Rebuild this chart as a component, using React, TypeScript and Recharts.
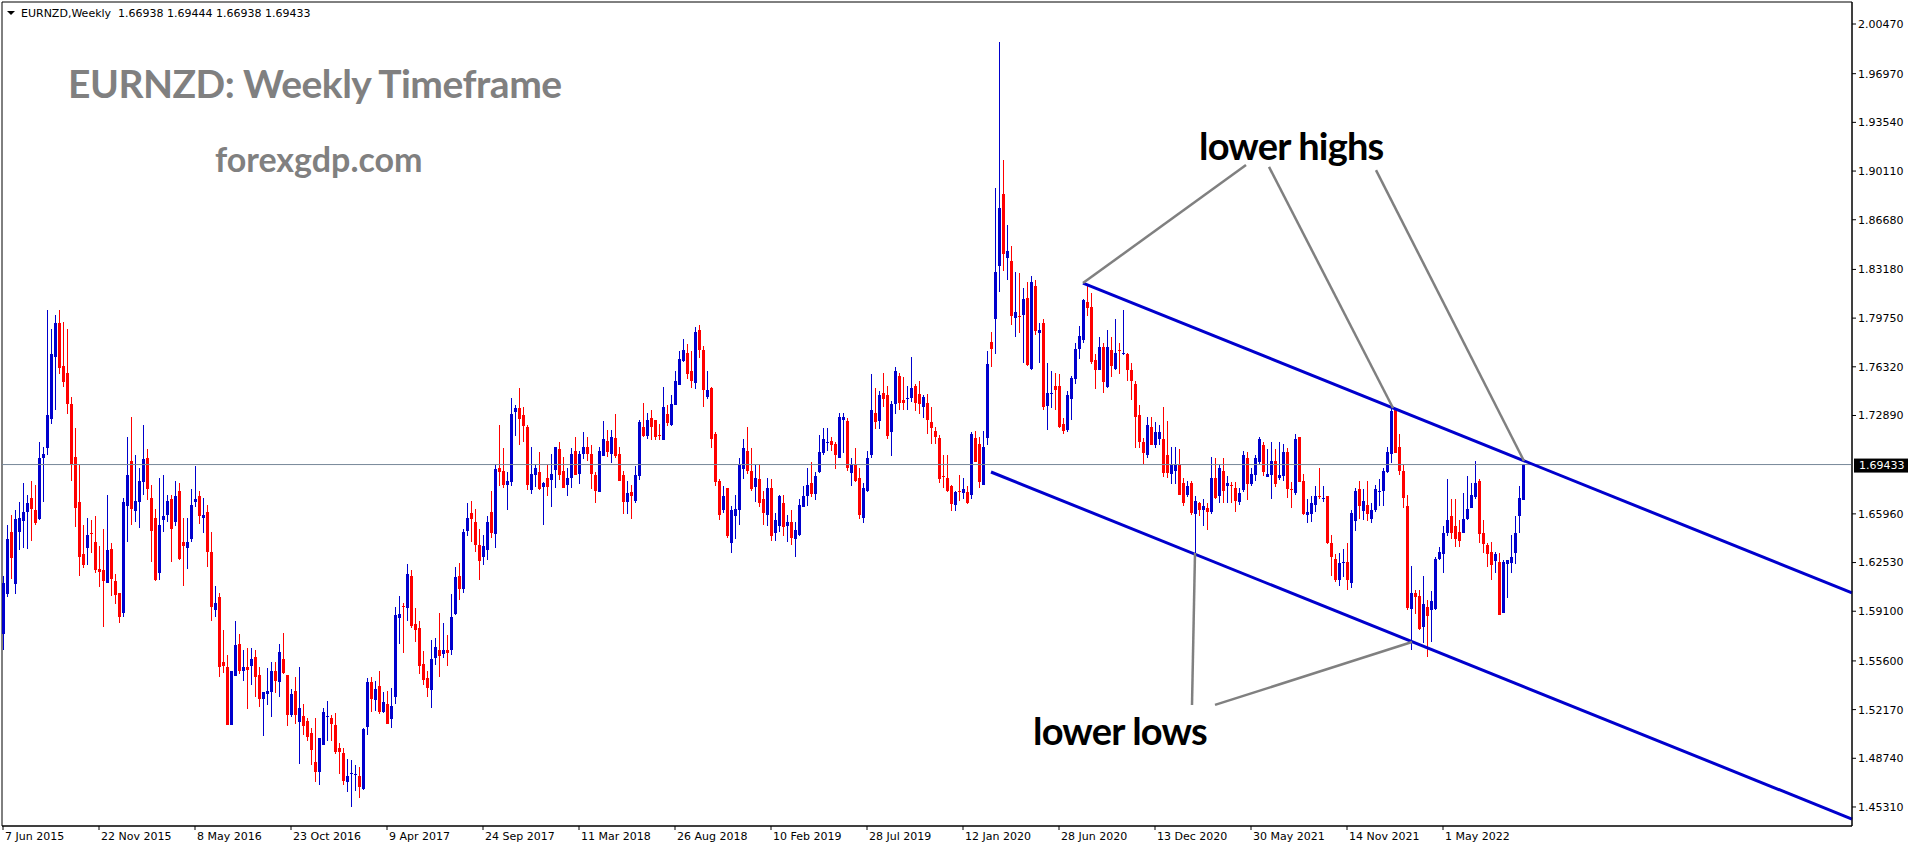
import React from 'react'
import {
  ComposedChart,
  Bar,
  XAxis,
  YAxis,
  ReferenceLine,
  ReferenceArea,
} from 'recharts'

// weekly EURNZD candles, one entry per week starting 7 Jun 2015
const opens = [
  1.575, 1.603, 1.647, 1.610, 1.647, 1.655, 1.661, 1.671, 1.662, 1.656,
  1.699, 1.706, 1.726, 1.770, 1.794, 1.764, 1.759, 1.737, 1.700, 1.668,
  1.631, 1.636, 1.646, 1.640, 1.621, 1.620, 1.611, 1.635, 1.612, 1.604,
  1.590, 1.665, 1.697, 1.662, 1.668, 1.682, 1.699, 1.671, 1.657, 1.618,
  1.655, 1.659, 1.670, 1.654, 1.676, 1.640, 1.636, 1.642, 1.668, 1.672,
  1.657, 1.661, 1.633, 1.592, 1.601, 1.555, 1.552, 1.511, 1.545, 1.568,
  1.549, 1.552, 1.552, 1.559, 1.546, 1.529, 1.533, 1.534, 1.549, 1.541,
  1.557, 1.546, 1.518, 1.535, 1.513, 1.517, 1.514, 1.505, 1.485, 1.478,
  1.497, 1.516, 1.516, 1.511, 1.495, 1.491, 1.471, 1.476, 1.475, 1.475,
  1.466, 1.509, 1.541, 1.528, 1.538, 1.520, 1.526, 1.515, 1.530, 1.586,
  1.595, 1.593, 1.616, 1.582, 1.579, 1.554, 1.544, 1.535, 1.558, 1.564,
  1.561, 1.564, 1.564, 1.589, 1.616, 1.607, 1.648, 1.660, 1.654, 1.638,
  1.629, 1.634, 1.661, 1.645, 1.692, 1.690, 1.680, 1.682, 1.731, 1.734,
  1.729, 1.721, 1.677, 1.687, 1.689, 1.678, 1.685, 1.684, 1.691, 1.705,
  1.690, 1.680, 1.685, 1.704, 1.688, 1.702, 1.707, 1.702, 1.687, 1.675,
  1.700, 1.711, 1.702, 1.713, 1.702, 1.687, 1.668, 1.675, 1.669, 1.686,
  1.721, 1.715, 1.727, 1.726, 1.715, 1.712, 1.730, 1.722, 1.736, 1.751,
  1.767, 1.773, 1.760, 1.752, 1.789, 1.775, 1.742, 1.748, 1.716, 1.683,
  1.662, 1.678, 1.639, 1.658, 1.662, 1.691, 1.704, 1.690, 1.679, 1.684,
  1.670, 1.659, 1.678, 1.646, 1.651, 1.667, 1.651, 1.654, 1.642, 1.645,
  1.664, 1.672, 1.681, 1.673, 1.689, 1.702, 1.709, 1.711, 1.709, 1.699,
  1.726, 1.725, 1.689, 1.694, 1.685, 1.657, 1.676, 1.701, 1.731, 1.725,
  1.745, 1.743, 1.717, 1.737, 1.757, 1.740, 1.740, 1.741, 1.750, 1.744,
  1.735, 1.738, 1.724, 1.718, 1.713, 1.686, 1.685, 1.679, 1.666, 1.676,
  1.674, 1.675, 1.673, 1.713, 1.709, 1.680, 1.713, 1.781, 1.797, 1.834,
  1.885, 1.840, 1.838, 1.798, 1.799, 1.800, 1.812, 1.762, 1.820, 1.787,
  1.794, 1.736, 1.744, 1.750, 1.750, 1.723, 1.718, 1.740, 1.755, 1.776,
  1.782, 1.809, 1.805, 1.768, 1.761, 1.777, 1.749, 1.775, 1.762, 1.775,
  1.772, 1.772, 1.761, 1.751, 1.729, 1.710, 1.701, 1.721, 1.708, 1.712,
  1.712, 1.701, 1.688, 1.690, 1.694, 1.681, 1.673, 1.681, 1.660, 1.667,
  1.662, 1.664, 1.661, 1.685, 1.672, 1.690, 1.679, 1.680, 1.678, 1.668,
  1.676, 1.699, 1.681, 1.687, 1.696, 1.708, 1.686, 1.687, 1.697, 1.685,
  1.686, 1.703, 1.677, 1.674, 1.714, 1.683, 1.659, 1.659, 1.666, 1.672,
  1.670, 1.672, 1.639, 1.628, 1.613, 1.625, 1.626, 1.611, 1.655, 1.677,
  1.662, 1.666, 1.656, 1.662, 1.675, 1.676, 1.689, 1.702, 1.733, 1.707,
  1.690, 1.665, 1.593, 1.604, 1.602, 1.580, 1.594, 1.592, 1.593, 1.628,
  1.631, 1.646, 1.658, 1.651, 1.647, 1.646, 1.656, 1.664, 1.671, 1.683,
  1.646, 1.638, 1.633, 1.626, 1.626, 1.590, 1.624, 1.625, 1.632, 1.658,
  1.66938,
]

const highs = [
  1.616, 1.652, 1.659, 1.662, 1.668, 1.681, 1.673, 1.683, 1.680, 1.710,
  1.707, 1.803, 1.790, 1.800, 1.803, 1.795, 1.790, 1.742, 1.720, 1.695,
  1.652, 1.657, 1.655, 1.658, 1.637, 1.649, 1.673, 1.639, 1.617, 1.604,
  1.671, 1.714, 1.728, 1.701, 1.692, 1.722, 1.705, 1.680, 1.663, 1.685,
  1.687, 1.673, 1.673, 1.683, 1.681, 1.657, 1.657, 1.677, 1.693, 1.676,
  1.671, 1.666, 1.647, 1.609, 1.604, 1.578, 1.560, 1.549, 1.584, 1.575,
  1.564, 1.565, 1.565, 1.564, 1.552, 1.534, 1.551, 1.555, 1.555, 1.568,
  1.576, 1.546, 1.536, 1.545, 1.552, 1.526, 1.516, 1.509, 1.516, 1.502,
  1.523, 1.528, 1.518, 1.519, 1.498, 1.495, 1.487, 1.486, 1.483, 1.481,
  1.509, 1.544, 1.545, 1.542, 1.549, 1.534, 1.535, 1.537, 1.594, 1.602,
  1.597, 1.624, 1.620, 1.593, 1.584, 1.563, 1.549, 1.571, 1.572, 1.590,
  1.583, 1.574, 1.603, 1.622, 1.625, 1.649, 1.667, 1.669, 1.663, 1.649,
  1.645, 1.658, 1.676, 1.695, 1.722, 1.706, 1.689, 1.741, 1.736, 1.748,
  1.735, 1.722, 1.707, 1.695, 1.703, 1.682, 1.694, 1.702, 1.707, 1.710,
  1.700, 1.692, 1.706, 1.714, 1.704, 1.717, 1.714, 1.708, 1.689, 1.707,
  1.725, 1.719, 1.719, 1.730, 1.707, 1.690, 1.683, 1.680, 1.693, 1.726,
  1.738, 1.731, 1.733, 1.726, 1.723, 1.749, 1.736, 1.743, 1.760, 1.774,
  1.783, 1.779, 1.774, 1.791, 1.793, 1.778, 1.760, 1.749, 1.717, 1.684,
  1.679, 1.678, 1.665, 1.673, 1.699, 1.712, 1.721, 1.706, 1.694, 1.695,
  1.676, 1.685, 1.684, 1.660, 1.673, 1.673, 1.659, 1.662, 1.654, 1.670,
  1.679, 1.692, 1.696, 1.689, 1.715, 1.720, 1.720, 1.714, 1.710, 1.731,
  1.731, 1.727, 1.699, 1.706, 1.692, 1.681, 1.704, 1.758, 1.748, 1.746,
  1.759, 1.750, 1.739, 1.763, 1.759, 1.756, 1.750, 1.770, 1.751, 1.753,
  1.743, 1.744, 1.735, 1.721, 1.715, 1.701, 1.701, 1.680, 1.676, 1.687,
  1.685, 1.679, 1.717, 1.718, 1.714, 1.718, 1.774, 1.788, 1.889, 1.992,
  1.909, 1.863, 1.848, 1.830, 1.829, 1.819, 1.823, 1.827, 1.824, 1.794,
  1.797, 1.766, 1.760, 1.759, 1.758, 1.727, 1.746, 1.757, 1.780, 1.792,
  1.811, 1.821, 1.815, 1.772, 1.784, 1.780, 1.789, 1.784, 1.797, 1.780,
  1.803, 1.773, 1.766, 1.753, 1.736, 1.713, 1.728, 1.728, 1.724, 1.722,
  1.735, 1.725, 1.707, 1.707, 1.705, 1.685, 1.683, 1.683, 1.672, 1.668,
  1.670, 1.667, 1.700, 1.699, 1.694, 1.699, 1.686, 1.682, 1.682, 1.678,
  1.704, 1.703, 1.692, 1.701, 1.714, 1.710, 1.705, 1.710, 1.705, 1.710,
  1.709, 1.706, 1.682, 1.716, 1.714, 1.688, 1.670, 1.672, 1.679, 1.692,
  1.679, 1.672, 1.645, 1.631, 1.632, 1.635, 1.639, 1.662, 1.678, 1.683,
  1.677, 1.683, 1.667, 1.680, 1.684, 1.692, 1.707, 1.734, 1.734, 1.716,
  1.694, 1.673, 1.623, 1.606, 1.606, 1.616, 1.599, 1.605, 1.629, 1.636,
  1.651, 1.684, 1.670, 1.670, 1.655, 1.674, 1.686, 1.681, 1.697, 1.684,
  1.655, 1.639, 1.640, 1.633, 1.632, 1.627, 1.627, 1.645, 1.658, 1.679,
  1.69444,
]

const lows = [
  1.564, 1.601, 1.614, 1.603, 1.634, 1.635, 1.635, 1.641, 1.652, 1.655,
  1.668, 1.701, 1.723, 1.733, 1.758, 1.749, 1.730, 1.683, 1.650, 1.616,
  1.622, 1.624, 1.632, 1.618, 1.608, 1.580, 1.611, 1.602, 1.596, 1.583,
  1.587, 1.640, 1.652, 1.654, 1.650, 1.673, 1.669, 1.626, 1.612, 1.613,
  1.647, 1.654, 1.626, 1.651, 1.627, 1.609, 1.621, 1.640, 1.664, 1.653,
  1.646, 1.622, 1.584, 1.587, 1.545, 1.548, 1.511, 1.511, 1.545, 1.547,
  1.542, 1.522, 1.539, 1.531, 1.524, 1.503, 1.525, 1.516, 1.533, 1.531,
  1.547, 1.510, 1.516, 1.512, 1.484, 1.504, 1.500, 1.483, 1.471, 1.469,
  1.497, 1.500, 1.500, 1.490, 1.476, 1.469, 1.464, 1.453, 1.465, 1.459,
  1.465, 1.504, 1.520, 1.521, 1.519, 1.519, 1.512, 1.509, 1.526, 1.568,
  1.562, 1.584, 1.579, 1.569, 1.547, 1.539, 1.531, 1.523, 1.553, 1.545,
  1.558, 1.552, 1.560, 1.588, 1.599, 1.604, 1.644, 1.640, 1.633, 1.613,
  1.624, 1.627, 1.643, 1.636, 1.679, 1.678, 1.662, 1.679, 1.714, 1.708,
  1.710, 1.676, 1.674, 1.679, 1.676, 1.652, 1.672, 1.665, 1.678, 1.683,
  1.678, 1.672, 1.678, 1.687, 1.681, 1.698, 1.697, 1.677, 1.667, 1.675,
  1.700, 1.700, 1.696, 1.699, 1.683, 1.660, 1.660, 1.656, 1.667, 1.684,
  1.714, 1.713, 1.712, 1.712, 1.712, 1.712, 1.721, 1.721, 1.736, 1.750,
  1.767, 1.754, 1.748, 1.747, 1.770, 1.735, 1.740, 1.706, 1.679, 1.655,
  1.660, 1.643, 1.632, 1.642, 1.652, 1.684, 1.688, 1.676, 1.668, 1.665,
  1.652, 1.651, 1.640, 1.640, 1.647, 1.644, 1.640, 1.637, 1.629, 1.644,
  1.664, 1.665, 1.671, 1.669, 1.688, 1.701, 1.704, 1.704, 1.691, 1.699,
  1.703, 1.690, 1.679, 1.682, 1.656, 1.653, 1.675, 1.699, 1.719, 1.719,
  1.735, 1.713, 1.700, 1.730, 1.733, 1.733, 1.733, 1.738, 1.732, 1.730,
  1.727, 1.716, 1.709, 1.709, 1.681, 1.678, 1.675, 1.662, 1.662, 1.669,
  1.670, 1.666, 1.670, 1.696, 1.678, 1.680, 1.708, 1.763, 1.772, 1.816,
  1.831, 1.824, 1.792, 1.784, 1.787, 1.766, 1.764, 1.761, 1.785, 1.766,
  1.733, 1.719, 1.734, 1.733, 1.720, 1.716, 1.717, 1.726, 1.751, 1.769,
  1.780, 1.799, 1.765, 1.747, 1.761, 1.745, 1.748, 1.756, 1.761, 1.758,
  1.771, 1.753, 1.740, 1.706, 1.706, 1.695, 1.699, 1.708, 1.706, 1.708,
  1.686, 1.685, 1.681, 1.681, 1.673, 1.665, 1.672, 1.659, 1.632, 1.658,
  1.651, 1.648, 1.660, 1.670, 1.667, 1.667, 1.667, 1.667, 1.661, 1.666,
  1.675, 1.669, 1.679, 1.683, 1.695, 1.686, 1.685, 1.670, 1.678, 1.683,
  1.683, 1.671, 1.664, 1.673, 1.682, 1.659, 1.653, 1.654, 1.661, 1.670,
  1.668, 1.638, 1.616, 1.611, 1.609, 1.615, 1.606, 1.607, 1.648, 1.656,
  1.655, 1.655, 1.653, 1.661, 1.665, 1.665, 1.689, 1.695, 1.702, 1.687,
  1.664, 1.592, 1.564, 1.589, 1.578, 1.569, 1.559, 1.569, 1.592, 1.627,
  1.618, 1.644, 1.642, 1.636, 1.636, 1.646, 1.655, 1.664, 1.670, 1.639,
  1.632, 1.622, 1.613, 1.618, 1.589, 1.590, 1.600, 1.618, 1.624, 1.646,
  1.66938,
]

const closes = [
  1.611, 1.642, 1.629, 1.656, 1.657, 1.661, 1.667, 1.663, 1.653, 1.699,
  1.702, 1.729, 1.772, 1.794, 1.762, 1.753, 1.737, 1.695, 1.664, 1.629,
  1.623, 1.645, 1.645, 1.620, 1.619, 1.612, 1.634, 1.614, 1.602, 1.587,
  1.668, 1.687, 1.663, 1.669, 1.683, 1.698, 1.677, 1.648, 1.613, 1.652,
  1.658, 1.669, 1.649, 1.672, 1.628, 1.637, 1.640, 1.666, 1.670, 1.658,
  1.659, 1.633, 1.594, 1.597, 1.552, 1.552, 1.511, 1.549, 1.567, 1.549,
  1.552, 1.550, 1.557, 1.545, 1.529, 1.534, 1.535, 1.549, 1.542, 1.562,
  1.547, 1.518, 1.533, 1.518, 1.523, 1.510, 1.503, 1.493, 1.478, 1.502,
  1.520, 1.517, 1.512, 1.492, 1.492, 1.471, 1.475, 1.477, 1.476, 1.467,
  1.508, 1.541, 1.529, 1.536, 1.520, 1.527, 1.512, 1.524, 1.588, 1.589,
  1.594, 1.617, 1.581, 1.578, 1.552, 1.543, 1.537, 1.557, 1.566, 1.560,
  1.564, 1.562, 1.587, 1.615, 1.607, 1.647, 1.657, 1.656, 1.638, 1.627,
  1.637, 1.654, 1.646, 1.691, 1.689, 1.680, 1.683, 1.730, 1.734, 1.726,
  1.721, 1.680, 1.688, 1.692, 1.677, 1.681, 1.679, 1.688, 1.707, 1.687,
  1.678, 1.685, 1.702, 1.687, 1.702, 1.707, 1.702, 1.688, 1.676, 1.704,
  1.712, 1.703, 1.714, 1.700, 1.683, 1.668, 1.674, 1.672, 1.687, 1.724,
  1.715, 1.726, 1.721, 1.714, 1.714, 1.735, 1.724, 1.737, 1.753, 1.769,
  1.775, 1.758, 1.753, 1.788, 1.775, 1.747, 1.747, 1.712, 1.682, 1.659,
  1.672, 1.644, 1.662, 1.663, 1.694, 1.706, 1.690, 1.677, 1.685, 1.667,
  1.660, 1.678, 1.644, 1.655, 1.672, 1.650, 1.654, 1.643, 1.648, 1.666,
  1.672, 1.680, 1.673, 1.686, 1.703, 1.712, 1.710, 1.708, 1.701, 1.728,
  1.728, 1.692, 1.695, 1.683, 1.659, 1.678, 1.699, 1.733, 1.725, 1.743,
  1.741, 1.714, 1.737, 1.760, 1.738, 1.738, 1.741, 1.748, 1.738, 1.737,
  1.742, 1.726, 1.720, 1.714, 1.684, 1.685, 1.676, 1.666, 1.675, 1.675,
  1.677, 1.667, 1.716, 1.696, 1.682, 1.707, 1.765, 1.776, 1.830, 1.875,
  1.843, 1.845, 1.799, 1.802, 1.798, 1.811, 1.765, 1.823, 1.788, 1.789,
  1.735, 1.745, 1.745, 1.747, 1.721, 1.718, 1.743, 1.755, 1.776, 1.785,
  1.810, 1.805, 1.766, 1.761, 1.777, 1.752, 1.777, 1.764, 1.773, 1.774,
  1.773, 1.761, 1.753, 1.728, 1.710, 1.702, 1.722, 1.708, 1.717, 1.717,
  1.688, 1.688, 1.694, 1.694, 1.673, 1.667, 1.679, 1.660, 1.669, 1.662,
  1.665, 1.661, 1.685, 1.671, 1.692, 1.676, 1.681, 1.679, 1.669, 1.674,
  1.701, 1.681, 1.688, 1.699, 1.712, 1.689, 1.688, 1.697, 1.681, 1.687,
  1.703, 1.677, 1.676, 1.712, 1.682, 1.660, 1.661, 1.667, 1.672, 1.671,
  1.671, 1.639, 1.629, 1.613, 1.625, 1.626, 1.613, 1.660, 1.676, 1.665,
  1.669, 1.660, 1.662, 1.677, 1.676, 1.690, 1.703, 1.732, 1.703, 1.690,
  1.671, 1.593, 1.604, 1.601, 1.579, 1.596, 1.588, 1.598, 1.628, 1.633,
  1.646, 1.655, 1.646, 1.642, 1.641, 1.656, 1.663, 1.673, 1.681, 1.646,
  1.638, 1.632, 1.624, 1.631, 1.589, 1.626, 1.627, 1.629, 1.646, 1.671,
  1.69433,
]

const dateLabels = [
  '7 Jun 2015', '22 Nov 2015', '8 May 2016', '23 Oct 2016', '9 Apr 2017',
  '24 Sep 2017', '11 Mar 2018', '26 Aug 2018', '10 Feb 2019', '28 Jul 2019',
  '12 Jan 2020', '28 Jun 2020', '13 Dec 2020', '30 May 2021', '14 Nov 2021',
  '1 May 2022',
]
// bar index (week number) where each date label sits
const labelBars = [0, 24, 48, 72, 96, 120, 144, 168, 192, 216, 240, 264, 288, 312, 336, 360]

const priceTicks = [
  2.0047, 1.9697, 1.9354, 1.9011, 1.8668, 1.8318, 1.7975, 1.7632, 1.7289,
  1.6596, 1.6253, 1.591, 1.556, 1.5217, 1.4874, 1.4531,
]
const lastPrice = 1.69433

// trend channel and pointer lines, in (bar, price)
const upperChannel = [{ bar: 270, price: 1.8222 }, { bar: 462.25, price: 1.6039 }]
const lowerChannel = [{ bar: 247, price: 1.6891 }, { bar: 462.25, price: 1.4446 }]
const highPointers = [
  [{ bar: 310.75, price: 1.9054 }, { bar: 270, price: 1.8222 }],
  [{ bar: 316.5, price: 1.904 }, { bar: 347.5, price: 1.7342 }],
  [{ bar: 343.25, price: 1.9018 }, { bar: 380.25, price: 1.6968 }],
]
const lowPointers = [
  [{ bar: 298, price: 1.632 }, { bar: 297.25, price: 1.525 }],
  [{ bar: 303, price: 1.525 }, { bar: 352.25, price: 1.5693 }],
]

const X_DOMAIN: [number, number] = [-0.25, 462.25]
const Y_DOMAIN: [number, number] = [1.4397, 2.0202]
const BULL = '#0000CD'
const BEAR = '#FF0000'
const AXIS_FONT = 'DejaVu Sans, sans-serif'
const TITLE_FONT = 'Lato, "Open Sans", sans-serif'

const candles = opens.map((open, i) => {
  const high = highs[i]
  const low = lows[i]
  const close = closes[i]
  return {
    bar: i,
    open,
    high,
    low,
    close,
    range: [Math.min(low, open, close), Math.max(high, open, close)],
  }
})

const Candle = (props: any) => {
  const { x, y, width, height, payload } = props
  if (x == null || y == null || !payload) return null
  const top = Math.min(y, y + height)
  const h = Math.abs(height)
  const [lo, hi] = payload.range
  const ppu = hi - lo > 0 ? h / (hi - lo) : 0
  const cx = Math.round(x + width / 2)
  const yO = top + (hi - payload.open) * ppu
  const yC = top + (hi - payload.close) * ppu
  const color = payload.close >= payload.open ? BULL : BEAR
  const bodyTop = Math.round(Math.min(yO, yC))
  const bodyH = Math.max(1, Math.round(Math.abs(yC - yO)))
  return (
    <g>
      <rect x={cx} y={Math.round(top)} width={1} height={Math.max(1, Math.round(h))} fill={color} />
      <rect x={cx - 1} y={bodyTop} width={3} height={bodyH} fill={color} />
    </g>
  )
}

const DateTick = (props: any) => {
  const { x, y, payload } = props
  const idx = labelBars.indexOf(payload.value)
  return (
    <text x={x + 2} y={y} dy="0.75em" textAnchor="start" fontSize={11} fontFamily={AXIS_FONT} fill="#000">
      {dateLabels[idx]}
    </text>
  )
}

const PriceTag = (props: any) => {
  const vb = props.viewBox
  if (!vb) return null
  const x = vb.x + vb.width
  const y = vb.y
  return (
    <g>
      <rect x={x + 2} y={y - 6} width={54} height={14} fill="#000" />
      <text x={x + 7} y={y + 1} dy="0.355em" fontSize={11} fontFamily={AXIS_FONT} fill="#fff">
        {lastPrice.toFixed(5)}
      </text>
    </g>
  )
}

const seg = (pts: { bar: number; price: number }[]) => pts.map((p) => ({ x: p.bar, y: p.price }))

export default function App() {
  return (
    <div style={{ position: 'absolute', left: 0, top: 0, width: 1916, height: 850, background: '#fff' }}>
      <ComposedChart
        width={1916}
        height={850}
        data={candles}
        margin={{ top: 2, right: 0, bottom: 0, left: 2 }}
      >
        <XAxis
          dataKey="bar"
          type="number"
          domain={X_DOMAIN}
          allowDataOverflow
          ticks={labelBars}
          interval={0}
          tick={<DateTick />}
          tickSize={4}
          tickMargin={2}
          height={24}
          axisLine={{ stroke: '#000' }}
          tickLine={{ stroke: '#000' }}
        />
        <YAxis
          orientation="right"
          width={64}
          domain={Y_DOMAIN}
          allowDataOverflow
          ticks={priceTicks}
          interval={0}
          tickFormatter={(v: number) => v.toFixed(5)}
          tick={{ fontSize: 11, fill: '#000', fontFamily: AXIS_FONT }}
          tickSize={4}
          tickMargin={2}
          axisLine={{ stroke: '#000' }}
          tickLine={{ stroke: '#000' }}
        />
        <ReferenceArea
          x1={X_DOMAIN[0]}
          x2={X_DOMAIN[1]}
          y1={Y_DOMAIN[0]}
          y2={Y_DOMAIN[1]}
          fill="none"
          stroke="#000"
          strokeWidth={1}
          ifOverflow="visible"
        />
        <ReferenceLine y={lastPrice} stroke="#778899" strokeWidth={1} label={<PriceTag />} ifOverflow="visible" />
        <Bar dataKey="range" barSize={3} shape={<Candle />} isAnimationActive={false} />
        <ReferenceLine segment={seg(upperChannel)} stroke={BULL} strokeWidth={3} ifOverflow="visible" />
        <ReferenceLine segment={seg(lowerChannel)} stroke={BULL} strokeWidth={3} ifOverflow="visible" />
        {highPointers.map((p, i) => (
          <ReferenceLine key={'h' + i} segment={seg(p)} stroke="#808080" strokeWidth={2.5} ifOverflow="visible" />
        ))}
        {lowPointers.map((p, i) => (
          <ReferenceLine key={'l' + i} segment={seg(p)} stroke="#808080" strokeWidth={2.5} ifOverflow="visible" />
        ))}
      </ComposedChart>
      <svg
        width={1916}
        height={850}
        style={{ position: 'absolute', left: 0, top: 0, pointerEvents: 'none' }}
      >
        <polygon points="7,11 15,11 11,15" fill="#000" />
        <text x={21} y={17} fontSize={11} fontFamily={AXIS_FONT} fill="#000" style={{ whiteSpace: 'pre' }}>
          {'EURNZD,Weekly  1.66938 1.69444 1.66938 1.69433'}
        </text>
        <text x={68} y={98} fontSize={39} fontWeight={700} fontFamily={TITLE_FONT} fill="#808080" letterSpacing={-0.5}>
          EURNZD: Weekly Timeframe
        </text>
        <text x={215} y={172} fontSize={34} fontWeight={700} fontFamily={TITLE_FONT} fill="#808080">
          forexgdp.com
        </text>
        <text x={1199} y={160} fontSize={38} fontWeight={700} fontFamily={TITLE_FONT} fill="#000" letterSpacing={-0.8}>
          lower highs
        </text>
        <text x={1033} y={745} fontSize={38} fontWeight={700} fontFamily={TITLE_FONT} fill="#000" letterSpacing={-0.8}>
          lower lows
        </text>
      </svg>
    </div>
  )
}
